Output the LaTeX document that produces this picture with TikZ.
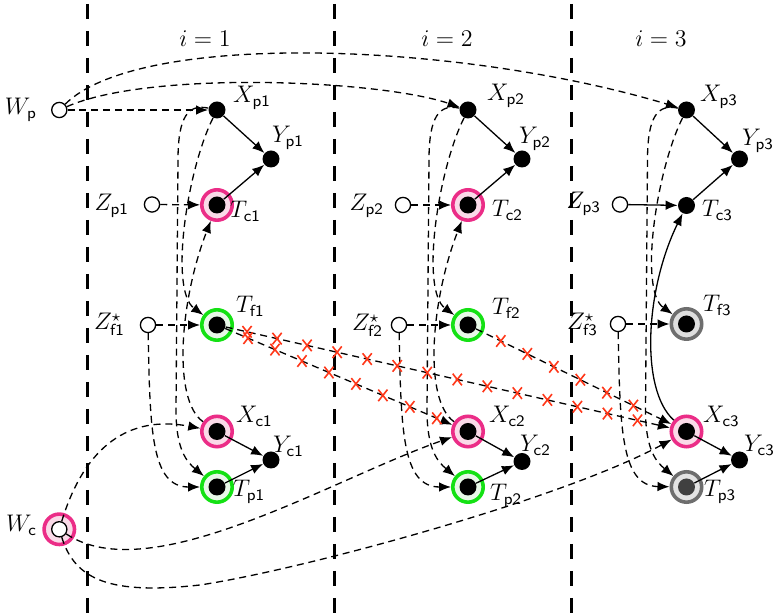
\documentclass[tikz,border=0pt]{standalone}
\usetikzlibrary{arrows.meta,calc}
\definecolor{pinkring}{RGB}{235,45,135}
\definecolor{pinkfill}{RGB}{250,218,232}
\definecolor{greenring}{RGB}{20,225,20}
\definecolor{greenfill}{RGB}{232,248,232}
\definecolor{grayring}{RGB}{110,110,110}
\definecolor{grayfill}{RGB}{222,222,222}
\definecolor{xred}{RGB}{255,55,25}
\begin{document}
\begin{tikzpicture}[x=0.5pt,y=-0.5pt,font=\large,
  dotn/.style={circle,fill=black,inner sep=0pt,minimum size=8.5pt},
  opn/.style={circle,draw=black,fill=white,line width=0.65pt,inner sep=0pt,minimum size=7.6pt},
  haloP/.style={circle,draw=pinkring,fill=pinkfill,line width=1.8pt,inner sep=0pt,minimum size=15.2pt},
  haloG/.style={haloP,draw=greenring,fill=greenfill},
  haloK/.style={haloP,draw=grayring,fill=grayfill},
  solidarr/.style={-{Latex[length=6pt,width=4.8pt]},line width=0.65pt},
  dasharr/.style={solidarr,dash pattern=on 3.5pt off 2.4pt},
  divider/.style={line width=1.5pt,dash pattern=on 7.5pt off 6pt},
  xmark/.pic={\draw[xred,line width=0.8pt] (-2.3pt,-2.9pt) -- (2.3pt,2.9pt) (-2.3pt,2.9pt) -- (2.3pt,-2.9pt);}
]
\useasboundingbox (0,0) rectangle (773,613);

% dividers and titles
\draw[divider] (87,4) -- (87,613);
\draw[divider] (334,4) -- (334,613);
\draw[divider] (571,4) -- (571,613);
\node[anchor=base,font=\fontsize{12.8}{15}\selectfont] (t1) at (205,47) {$i=1$};
\node[anchor=base,font=\fontsize{12.8}{15}\selectfont] (t2) at (447,47) {$i=2$};
\node[anchor=base,font=\fontsize{12.8}{15}\selectfont] (t3) at (661,47) {$i=3$};

% halos
\node[haloP] (hTc1) at (217,205) {};
\node[haloG] (hTf1) at (217,325) {};
\node[haloP] (hXc1) at (217,431.5) {};
\node[haloG] (hTp1) at (217,487) {};
\node[haloP] (hTc2) at (468,205) {};
\node[haloG] (hTf2) at (468,325) {};
\node[haloP] (hXc2) at (468,431.5) {};
\node[haloG] (hTp2) at (468,487) {};
\node[haloK] (hTf3) at (686.5,324) {};
\node[haloP] (hXc3) at (686.5,431.5) {};
\node[haloP] (hWc) at (59.3,529.3) {};

% dots
\node[dotn] (Xp1) at (217,110) {};
\node[dotn] (Yp1) at (271,159) {};
\node[dotn] (Tc1) at (217,205) {};
\node[dotn] (Tf1) at (217,325) {};
\node[dotn] (Xc1) at (217,431.5) {};
\node[dotn] (Yc1) at (271,460) {};
\node[dotn] (Tp1) at (217,487) {};
\node[dotn] (Xp2) at (468,110) {};
\node[dotn] (Yp2) at (522,159) {};
\node[dotn] (Tc2) at (468,205) {};
\node[dotn] (Tf2) at (468,325) {};
\node[dotn] (Xc2) at (468,431.5) {};
\node[dotn] (Yc2) at (522,461.5) {};
\node[dotn] (Tp2) at (468,487) {};
\node[dotn] (Xp3) at (686.5,110) {};
\node[dotn] (Yp3) at (739.5,159) {};
\node[dotn] (Tc3) at (686.5,205.5) {};
\node[dotn] (Tf3) at (686.5,324) {};
\node[dotn] (Xc3) at (686.5,431.5) {};
\node[dotn] (Yc3) at (739.5,460) {};

% open circles
\node[opn] (Wp) at (59.3,110) {};
\node[opn] (Wc) at (59.3,529.3) {};
\node[opn] (Zp1) at (152,204.5) {};
\node[opn] (Zf1) at (148,325) {};
\node[opn] (Zp2) at (403,205) {};
\node[opn] (Zf2) at (399,325) {};
\node[opn] (Zp3) at (620,204.5) {};
\node[opn] (Zf3) at (618,324) {};

% labels
\node[anchor=base east] (lWp) at (44,115) {$W_{\mathsf{p}}$};
\node[anchor=base east] (lWc) at (44,532) {$W_{\mathsf{c}}$};
\node[anchor=base west] (lXp1) at (226,103) {$X_{\mathsf{p1}}$};
\node[anchor=base west] (lYp1) at (265,143) {$Y_{\mathsf{p1}}$};
\node[anchor=base west] (lTc1) at (223,218) {$T_{\mathsf{c1}}$};
\node[anchor=base east] (lZp1) at (136,211) {$Z_{\mathsf{p1}}$};
\node[anchor=base west] (lTf1) at (229,313) {$T_{\mathsf{f1}}$};
\node[anchor=base east] (lZf1) at (132,330) {$Z^{\star}_{\mathsf{f1}}$};
\node[anchor=base west] (lXc1) at (229,423) {$X_{\mathsf{c1}}$};
\node[anchor=base west] (lYc1) at (266,453) {$Y_{\mathsf{c1}}$};
\node[anchor=base west] (lTp1) at (226,497) {$T_{\mathsf{p1}}$};
\node[anchor=base west] (lXp2) at (480,101) {$X_{\mathsf{p2}}$};
\node[anchor=base west] (lYp2) at (512,144) {$Y_{\mathsf{p2}}$};
\node[anchor=base west] (lTc2) at (485,217) {$T_{\mathsf{c2}}$};
\node[anchor=base east] (lZp2) at (391,211) {$Z_{\mathsf{p2}}$};
\node[anchor=base west] (lTf2) at (485,315) {$T_{\mathsf{f2}}$};
\node[anchor=base east] (lZf2) at (390,331) {$Z^{\star}_{\mathsf{f2}}$};
\node[anchor=base west] (lXc2) at (482,423) {$X_{\mathsf{c2}}$};
\node[anchor=base west] (lYc2) at (513,452) {$Y_{\mathsf{c2}}$};
\node[anchor=base west] (lTp2) at (483,501) {$T_{\mathsf{p2}}$};
\node[anchor=base west] (lXp3) at (693,102) {$X_{\mathsf{p3}}$};
\node[anchor=base west] (lYp3) at (735,146) {$Y_{\mathsf{p3}}$};
\node[anchor=base west] (lTc3) at (695,217) {$T_{\mathsf{c3}}$};
\node[anchor=base east] (lZp3) at (608,209) {$Z_{\mathsf{p3}}$};
\node[anchor=base west] (lTf3) at (696,312) {$T_{\mathsf{f3}}$};
\node[anchor=base east] (lZf3) at (605,330) {$Z^{\star}_{\mathsf{f3}}$};
\node[anchor=base west] (lXc3) at (696,423) {$X_{\mathsf{c3}}$};
\node[anchor=base west] (lYc3) at (737,452) {$Y_{\mathsf{c3}}$};
\node[anchor=base west] (lTp3) at (697,497) {$T_{\mathsf{p3}}$};

% T_p3 drawn over its label
\node[haloK,fill opacity=0.85] (hTp3) at (686.5,487) {};
\node[dotn,fill=black!75] (Tp3) at (686.5,487) {};

% common edges per column
\foreach \c/\x in {1/217,2/468,3/686.5} {
  \draw[solidarr] (Xp\c) -- (Yp\c);
  \draw[solidarr] (Tc\c) -- (Yp\c);
  \draw[solidarr] (Xc\c) -- (Yc\c);
  \draw[solidarr] (Tp\c) -- (Yc\c);
  \draw[dasharr] (Zf\c) -- (hTf\c);
  \draw[dasharr] (Zf\c) .. controls ($(Zf\c)+(2,105)$) and ($(Zf\c)+(3,162)$) .. (hTp\c);
  \draw[dasharr] (Xp\c) .. controls ({\x-30},170) and ({\x-48},290) .. (hTf\c);
  \draw[dasharr] (Xp\c) .. controls ({\x-28},104) and ({\x-39},115) .. ({\x-39},160)
     -- ({\x-41},410) .. controls ({\x-41},450) and ({\x-30},462) .. (hTp\c);
}
\foreach \c/\x in {1/217,2/468} {
  \draw[dasharr] (Zp\c) -- (hTc\c);
  \draw[dasharr] (hXc\c) .. controls ({\x-45},400) and ({\x-37},300) .. (hTc\c);
}
\draw[solidarr] (Zp3) -- (Tc3);
\draw[solidarr] (hXc3) .. controls (640,390) and (645,290) .. (Tc3);

% W edges
\draw[dasharr] (Wp) -- (Xp1);
\draw[dasharr] (Wp) .. controls (150,70) and (380,80) .. (Xp2);
\draw[dasharr] (Wp) .. controls (140,30) and (460,42) .. (Xp3);
\draw[dasharr] (Wc) .. controls (85,445) and (130,415) .. (hXc1);
\draw[dasharr] (Wc) .. controls (150,590) and (330,480) .. (hXc2);
\draw[dasharr] (Wc) .. controls (75,580) and (110,595) .. (200,585)
   .. controls (300,570) and (560,500) .. (hXc3);

% crossed-out edges
\draw[dasharr] (Tf1) -- (hXc2);
\draw[dasharr] (Tf1) -- (hXc3);
\draw[dasharr] (Tf2) -- (hXc3);
\foreach \k in {0,...,7} {
  \pgfmathsetmacro\dd{16.85+14.65*\k}
  \path ($(Tf1)!\dd pt!(hXc2)$) pic {xmark};
}
\foreach \k in {0,...,13} {
  \pgfmathsetmacro\dd{15.4+15.4*\k}
  \path ($(Tf1)!\dd pt!(hXc3)$) pic {xmark};
}
\foreach \k in {0,...,5} {
  \pgfmathsetmacro\dd{18.25+14.75*\k}
  \path ($(Tf2)!\dd pt!(hXc3)$) pic {xmark};
}
\end{tikzpicture}
\end{document}
